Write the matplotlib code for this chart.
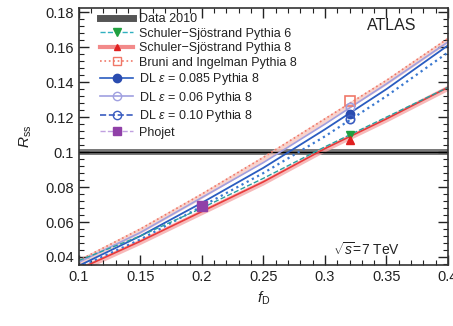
import numpy as np
import matplotlib
matplotlib.use('Agg')
from matplotlib import pyplot as plt
from matplotlib.ticker import MultipleLocator, FormatStrFormatter

plt.rcParams['font.family'] = ['Liberation Sans', 'DejaVu Sans']
plt.rcParams['mathtext.fontset'] = 'custom'
plt.rcParams['mathtext.rm'] = 'Liberation Sans'
plt.rcParams['mathtext.it'] = 'Liberation Sans:italic'

fd = [0.1, 0.15, 0.2, 0.25, 0.3, 0.35, 0.4]

ss_p6 = [0.038, 0.052, 0.068, 0.085, 0.103, 0.120, 0.137]
ss_p8 = [0.033, 0.049, 0.066, 0.083, 0.102, 0.119, 0.137]
bruni = [0.038, 0.056, 0.076, 0.097, 0.119, 0.141, 0.165]
dl085 = [0.035, 0.052, 0.071, 0.091, 0.113, 0.136, 0.161]
dl06 = [0.037, 0.054, 0.074, 0.094, 0.116, 0.139, 0.163]
dl10 = [0.034, 0.050, 0.069, 0.088, 0.109, 0.132, 0.157]

# tuned points (markers)
fd_tuned = 0.32
pt_ss_p6 = 0.110
pt_ss_p8 = 0.107
pt_bruni = 0.129
pt_dl06 = 0.126
pt_dl085 = 0.122
pt_dl10 = 0.119
fd_phojet = 0.2
pt_phojet = 0.069

data_rss = 0.1
data_err = 0.0015

fig = plt.figure(figsize=(4.53, 3.26), dpi=100)
ax = fig.add_axes([0.174, 0.187, 0.815, 0.788])

# data band
ax.axhspan(data_rss - data_err, data_rss + data_err, color='#7a7a7a', lw=0)
ax.axhline(data_rss, color='black', lw=1.0)

# bands for Pythia 8 SS and Bruni
ax.fill_between(fd, np.array(ss_p8) - 0.0018, np.array(ss_p8) + 0.0015,
                color='#f5a8a8', lw=0, alpha=0.8)
ax.fill_between(fd, np.array(bruni) - 0.0025, np.array(bruni) + 0.001,
                color='#f8c8c0', lw=0, alpha=0.8)

ax.plot(fd, bruni, ':', color='#f07868', lw=1.2)
ax.plot(fd, dl06, '-', color='#a0a0e0', lw=1.2)
ax.plot(fd, dl085, '-', color='#2a5cc0', lw=1.3)
ax.plot(fd, dl10, ':', color='#3a78d0', lw=1.6)
ax.plot(fd, ss_p8, '-', color='#e83a3a', lw=1.2)
ax.plot(fd, ss_p6, '--', color='#2aa0a0', lw=1.0)

# legend handles
h_data, = ax.plot([], [], '-', color='#555555', lw=5)
h_p6, = ax.plot([], [], '--', color='#30b0c0', lw=1, marker='v', ms=6,
                mfc='#20a040', mec='#20a040')
h_p8, = ax.plot([], [], '-', color='#f28a8a', lw=3, marker='^', ms=5,
                mfc='#e02020', mec='#e02020')
h_br, = ax.plot([], [], ':', color='#f07868', lw=1.2, marker='s', ms=6,
                mfc='none', mec='#f07868')
h_85, = ax.plot([], [], '-', color='#2a5cc0', lw=1.2, marker='o', ms=6,
                mfc='#2a4cb0', mec='#2a4cb0')
h_06, = ax.plot([], [], '-', color='#a0a0e0', lw=1.2, marker='o', ms=6,
                mfc='none', mec='#a0a0e0')
h_10, = ax.plot([], [], '--', color='#3a5cc0', lw=1.2, marker='o', ms=6,
                mfc='none', mec='#3a5cc0')
h_ph, = ax.plot([], [], '--', color='#c0a0e0', lw=1, marker='s', ms=6,
                mfc='#9040a8', mec='#9040a8')

# markers
ax.plot(fd_tuned, pt_bruni, 's', ms=7, mfc='none', mec='#f07868', mew=1.2)
ax.plot(fd_tuned, pt_dl06, 'o', ms=6, mfc='none', mec='#a0a0e0', mew=1.2)
ax.plot(fd_tuned, pt_dl085, 'o', ms=6, color='#2a4cb0')
ax.plot(fd_tuned, pt_dl10, 'o', ms=6, mfc='none', mec='#3a5cc0', mew=1.2)
ax.plot(fd_tuned, pt_ss_p6, 'v', ms=6, color='#20a040')
ax.plot(fd_tuned, pt_ss_p8, '^', ms=6, color='#e02020')
ax.plot(fd_phojet, pt_phojet, 's', ms=7, color='#9040a8')

leg = ax.legend([h_data, h_p6, h_p8, h_br, h_85, h_06, h_10, h_ph],
                ['Data 2010', 'Schuler\u2212Sjöstrand Pythia 6',
                 'Schuler\u2212Sjöstrand Pythia 8', 'Bruni and Ingelman Pythia 8',
                 r'DL $\varepsilon$ = 0.085 Pythia 8', r'DL $\varepsilon$ = 0.06 Pythia 8',
                 r'DL $\varepsilon$ = 0.10 Pythia 8', 'Phojet'],
                loc='upper left', bbox_to_anchor=(0.045, 1.0), frameon=False,
                fontsize=9, handlelength=2.6, labelspacing=0.2,
                borderaxespad=0.0, handletextpad=0.5)
for t in leg.get_texts():
    t.set_color('#222222')

ax.text(0.848, 0.934, 'ATLAS', transform=ax.transAxes, fontsize=11.5,
        ha='center', va='center', color='#222222')
ax.text(0.778, 0.06, r'$\sqrt{s}$=7 TeV', transform=ax.transAxes, fontsize=10,
        ha='center', va='center', color='#222222')

ax.set_xlim(0.1, 0.4)
ax.set_ylim(0.0354, 0.1823)
ax.xaxis.set_major_locator(MultipleLocator(0.05))
ax.xaxis.set_minor_locator(MultipleLocator(0.01))
ax.yaxis.set_major_locator(MultipleLocator(0.02))
ax.yaxis.set_minor_locator(MultipleLocator(0.004))
ax.xaxis.set_major_formatter(FormatStrFormatter('%g'))
ax.yaxis.set_major_formatter(FormatStrFormatter('%g'))
ax.tick_params(which='both', direction='in', top=True, right=True,
               labelsize=10.5, colors='#222222')
ax.tick_params(which='major', length=7, width=1)
ax.tick_params(which='minor', length=3.5, width=0.8)
for s in ax.spines.values():
    s.set_linewidth(1.2)
    s.set_color('#333333')

ax.set_xlabel(r'$f_{\rm D}$', fontsize=11, color='#222222')
ax.set_ylabel(r'$R_{\rm ss}$', fontsize=11, color='#222222', labelpad=8)

plt.savefig('out.png', dpi=100)
